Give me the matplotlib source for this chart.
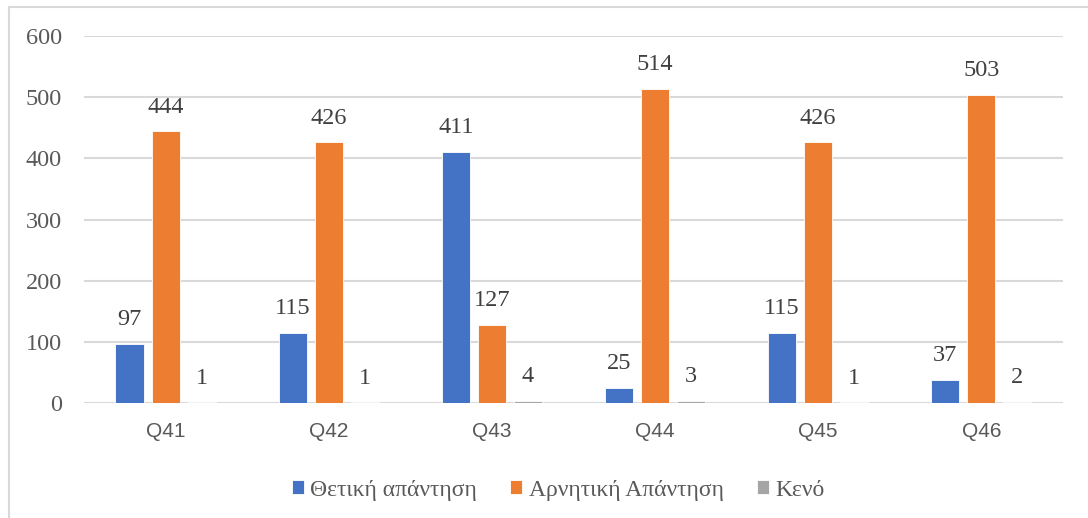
import matplotlib.pyplot as plt
from matplotlib.lines import Line2D
import numpy as np

categories = ['Q41', 'Q42', 'Q43', 'Q44', 'Q45', 'Q46']
positive = [97, 115, 411, 25, 115, 37]
negative = [444, 426, 127, 514, 426, 503]
blank = [1, 1, 4, 3, 1, 2]
series_names = ['Θετική απάντηση', 'Αρνητική Απάντηση', 'Κενό']
colors = ['#4472C4', '#ED7D31', '#A5A5A5']

plt.rcParams['font.family'] = ['Liberation Serif', 'DejaVu Serif']

fig = plt.figure(figsize=(10.88, 5.18), dpi=100)
ax = fig.add_axes([0.0772, 0.222, 0.8998, 0.7085])

x = np.arange(len(categories))
width = 0.172
offsets = [-0.221, 0, 0.221]

for vals, off, col, name in zip([positive, negative, blank], offsets, colors, series_names):
    bars = ax.bar(x + off, vals, width, color=col, label=name, edgecolor='white', linewidth=0.6, zorder=3)
    for b, v in zip(bars, vals):
        ax.annotate(str(v), (b.get_x() + b.get_width() / 2, b.get_height()),
                    xytext=(0, 10), textcoords='offset points', ha='center', va='bottom',
                    fontsize=17.5, color='#404040')

ax.set_xlim(-0.5, len(categories) - 0.5)
ax.set_ylim(0, 600)
ax.set_yticks(range(0, 601, 100))
ax.set_xticks(x)
ax.set_xticklabels(categories, family=['Liberation Sans'], fontsize=15, color='#595959')
ax.tick_params(axis='y', length=0, pad=16, labelsize=17.5, labelcolor='#595959')
ax.tick_params(axis='x', length=0, pad=14)
ax.grid(axis='y', color='#D9D9D9', linewidth=1.5, zorder=0)
for s in ax.spines.values():
    s.set_visible(False)

fig.legend(loc='center', bbox_to_anchor=(0.513, 0.054), ncol=3, frameon=False,
           fontsize=17, labelcolor='#595959', handlelength=0.5, handleheight=0.5,
           handletextpad=0.28, columnspacing=1.4)

# light frame around the chart
fig.add_artist(Line2D([9 / 1088, 9 / 1088], [0, 1 - 7 / 518], color='#D9D9D9', linewidth=1.5))
fig.add_artist(Line2D([9 / 1088, 1], [1 - 7 / 518, 1 - 7 / 518], color='#D9D9D9', linewidth=1.5))

fig.savefig('out.png', dpi=100)
